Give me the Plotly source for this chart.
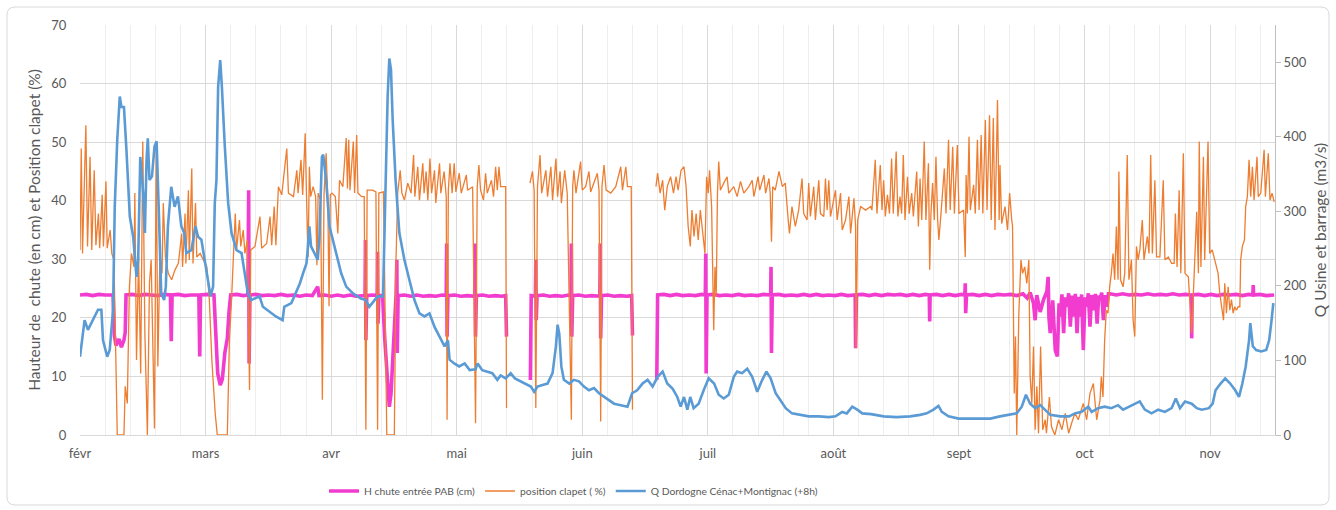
import plotly.graph_objects as go

# x position: months laid out evenly, 30 units per month (févr = 0)
MONTHS = ["févr", "mars", "avr", "mai", "juin", "juil", "août", "sept", "oct", "nov"]
MONTH_POS = [0, 30, 60, 90, 120, 150, 180, 210, 240, 270]

# Q Dordogne Cénac+Montignac (+8h), m3/s  (t, value)
BLUE = [
(0,105),(1.1,154),(1.9,141),(3.1,154),(4.3,168),(5.1,168),(5.5,127),(6.5,105),(7.1,114),(7.9,168),(8.3,306),(8.9,396),(9.5,454),(9.9,440),(10.5,440),(11.1,382),(11.9,293),(12.7,266),(13.5,212),(13.9,235),(14.4,373),(15.1,324),(15.5,271),(15.9,369),(16.2,398),(16.6,342),(17.2,347),(17.8,387),(18.3,394),(18.9,288),(19.4,190),(20.1,181),(20.5,199),(21.0,280),(21.8,333),(22.6,306),(23.4,320),(24.2,280),(24.9,271),(25.4,244),(26.6,248),(27.6,280),(28.2,266),(29.0,262),(29.8,235),(30.6,208),(31.2,186),(31.8,199),(32.2,311),(32.6,342),(33.0,467),(33.5,503),(33.9,467),(34.6,387),(35.4,311),(36.2,271),(37.4,248),(38.6,244),(39.3,217),(40.1,190),(40.9,181),(42.9,186),(43.7,172),(45.3,165),(46.8,159),(48.4,154),(48.8,172),(50.5,177),(51.5,190),(52.5,203),(53.3,217),(54.1,230),(54.4,248),(54.8,280),(55.2,253),(56.0,244),(56.8,235),(57.2,266),(57.8,373),(58.1,376),(58.8,342),(59.6,280),(60.4,262),(61.2,248),(62.4,217),(63.6,199),(65.2,190),(67.1,183),(68.3,181),(69.1,172),(70.3,181),(71.1,186),(72.4,186),(73.0,333),(73.5,454),(73.9,505),(74.3,490),(74.7,423),(75.4,342),(76.3,271),(77.5,235),(78.7,208),(79.9,181),(81.1,163),(82.3,159),(83.5,163),(84.7,145),(85.9,132),(87.1,119),(87.9,127),(88.3,101),(89.4,96),(90.6,92),(91.9,96),(93.1,87),(94.5,88),(95.0,96),(96.1,87),(97.3,85),(98.5,83),(99.7,74),(100.5,80),(101.7,76),(102.9,83),(103.9,76),(105.3,72),(106.5,69),(107.7,65),(108.5,58),(109.3,65),(110.5,67),(111.7,69),(112.9,83),(113.7,119),(114.1,148),(114.5,136),(115.0,92),(115.6,74),(116.9,69),(118.0,74),(119.2,72),(120.4,65),(121.6,60),(122.8,63),(124.0,56),(125.2,51),(126.4,47),(127.6,42),(129.2,40),(130.8,38),(131.9,56),(133.1,60),(134.4,69),(135.6,74),(136.8,65),(138.0,78),(139.2,85),(140.3,69),(141.6,62),(142.7,51),(143.5,38),(144.3,51),(145.1,34),(145.8,51),(146.6,36),(147.8,42),(149.0,60),(150.2,76),(151.5,69),(152.6,54),(153.8,49),(155.0,54),(156.2,78),(157.0,85),(158.2,83),(159.4,89),(160.6,78),(161.8,58),(163.0,74),(164.0,85),(165.0,76),(166.2,56),(167.3,47),(168.6,36),(170.1,29),(171.7,27),(174.1,25),(176.5,25),(178.9,24),(180.5,25),(182.1,31),(183.2,29),(184.5,38),(185.7,34),(186.9,29),(189.0,28),(192.0,25),(195.1,24),(198.3,25),(200.7,27),(202.3,29),(203.9,34),(205.1,39),(205.9,31),(207.5,25),(209.9,22),(212.7,22),(215.1,21),(217.5,22),(219.8,25),(222.2,27),(223.8,29),(225.0,38),(226.0,54),(227.0,42),(228.2,36),(229.4,40),(230.6,34),(231.8,27),(234.2,25),(236.3,25),(237.7,29),(239.3,31),(240.9,38),(241.7,31),(243.2,36),(244.8,38),(246.4,36),(248.0,40),(249.2,34),(250.8,38),(252.0,42),(253.2,45),(254.4,34),(256.0,29),(257.6,34),(259.2,31),(260.8,36),(261.8,49),(262.8,36),(264.0,45),(265.6,42),(266.8,36),(268.0,34),(269.7,36),(270.6,42),(271.3,60),(272.5,69),(273.6,76),(274.8,69),(276.0,60),(276.9,51),(277.7,69),(278.5,92),(279.3,127),(279.6,150),(280.2,119),(281.0,114),(282.2,112),(283.4,114),(284.1,127),(284.6,150),(285.1,177),
]

# H chute entrée PAB (cm)  (t, value); None = no data
PINK = [
(0,23.9),(1.5,24.0),(3,23.8),(4.5,24.0),(6,23.9),(7.9,23.9),(8.2,17.0),(8.6,15.3),(9.3,16.4),(9.9,15.0),(10.5,16.2),(10.8,17.5),(11.0,23.9),(12.5,24.0),(14,23.8),(15.5,24.0),(17,23.9),(18.5,23.8),(20,24.0),(21.6,23.9),(21.8,16.0),(22.0,23.9),(23.5,24.0),(25,23.8),(26.5,23.9),(28.4,23.9),(28.6,13.4),(28.8,23.9),(30.5,24.0),(32.0,23.9),(32.4,18.0),(32.9,10.5),(33.5,8.5),(34.0,9.5),(34.6,14.0),(35.2,16.5),(35.6,21.0),(36.0,23.9),(37.5,24.0),(39,23.8),(40.1,23.9),(40.3,41.8),(40.4,12.2),(40.6,23.9),(42,24.0),(43.5,23.8),(45,23.9),(46.5,23.8),(48,24.0),(49.5,23.8),(51,23.9),(52.5,23.7),(54,23.9),(55.5,23.8),(56.8,25.3),(57.1,23.8),(58.5,23.9),(60,23.7),(61.5,23.9),(63,23.7),(64.5,23.9),(66,23.7),(68.1,23.8),(68.2,33.3),(68.3,16.2),(68.5,23.8),(69.8,23.9),(71.0,23.8),(71.1,31.3),(71.2,19.0),(71.4,23.8),(72.3,23.8),(72.8,16.5),(73.4,9.0),(73.9,4.8),(74.3,7.0),(74.8,13.5),(75.2,20.0),(75.5,23.8),(75.7,29.9),(75.8,14.0),(76.0,23.8),(77.5,23.9),(79,23.7),(80.5,23.9),(82,23.7),(83.5,23.8),(85,23.7),(86.5,23.9),(87.5,23.8),(87.6,32.7),(87.7,16.8),(87.9,23.8),(89.5,23.9),(91,23.7),(92.5,23.8),(94.3,23.7),(94.4,32.7),(94.5,16.8),(94.7,23.8),(96.2,23.9),(97.7,23.7),(99.2,23.8),(100.7,23.7),(101.7,23.8),(101.9,16.8),(102.0,None),
(107.6,9.4),(107.8,23.8),(108.8,23.7),(108.9,29.9),(109.0,19.6),(109.2,23.8),(110.7,23.9),(112.2,23.7),(113.7,23.8),(115.2,23.7),(116.7,23.9),(117.3,23.7),(117.4,32.7),(117.5,16.8),(117.7,23.8),(119.2,23.9),(120.7,23.7),(122.2,23.8),(124.2,23.7),(124.3,32.7),(124.4,16.5),(124.6,23.8),(126.1,23.9),(127.6,23.7),(129.1,23.8),(130.6,23.7),(131.8,23.8),(132.0,17.0),(132.1,None),
(137.8,9.4),(138.0,23.9),(139.5,24.0),(141,23.8),(142.5,24.0),(144,23.8),(145.5,23.9),(147,23.8),(148.5,24.0),(149.4,23.9),(149.5,31.0),(149.6,10.5),(149.8,23.9),(151.3,24.0),(152.8,23.8),(154.3,23.9),(155.8,23.8),(157.3,24.0),(158.8,23.8),(160.3,23.9),(161.8,23.8),(163.3,24.0),(165.0,23.9),(165.1,28.7),(165.2,14.0),(165.4,23.9),(166.9,24.0),(168.4,23.8),(169.9,23.9),(171.4,23.8),(172.9,24.0),(174.4,23.8),(175.9,24.0),(177.4,23.8),(178.9,23.9),(180.4,23.8),(181.9,24.0),(183.4,23.8),(185.2,23.9),(185.3,14.8),(185.5,23.9),(187,24.0),(188.5,23.8),(190,24.0),(191.5,23.8),(193,24.0),(194.5,23.9),(196,24.0),(197.5,23.8),(199,24.0),(200.5,23.8),(202,24.0),(202.9,23.9),(203.0,19.4),(203.1,23.9),(204.6,24.0),(206.1,23.8),(207.6,24.0),(209.1,23.8),(210.6,24.0),(211.4,23.9),(211.5,25.9),(211.6,20.8),(211.8,23.9),(213.3,24.0),(214.8,23.8),(216.3,24.0),(217.8,23.8),(219.3,24.0),(220.8,23.9),(222.3,24.0),(223.8,23.8),(225.3,24.1),(226.3,23.4),(227.0,24.3),(227.8,22.5),(228.2,19.6),(228.6,23.9),(229.4,21.0),(230.2,23.1),(231.0,24.5),(231.3,27.0),(231.5,20.0),(231.8,17.4),(232.4,23.0),(233.0,14.5),(233.5,13.4),(233.9,22.5),(234.2,20.2),(234.6,24.0),(235.0,17.4),(235.4,23.5),(235.8,21.9),(236.2,24.2),(236.6,18.5),(237.0,23.8),(237.4,20.2),(237.8,24.1),(238.2,17.4),(238.6,23.6),(239.0,20.2),(239.3,24.0),(239.7,14.5),(240.1,23.5),(240.5,21.9),(240.9,24.2),(241.3,18.5),(241.7,23.9),(242.2,21.3),(242.6,24.1),(243.0,19.0),(243.4,23.8),(243.7,23.1),(244.1,24.3),(244.5,19.6),(244.9,23.9),(245.3,21.9),(245.7,24.1),(246.1,24.1),(247.6,23.9),(249.1,24.1),(250.6,23.9),(252.1,24.0),(253.6,23.9),(255.1,24.1),(256.6,23.9),(258.1,24.0),(259.6,23.9),(261.1,24.1),(262.6,23.9),(264.1,24.0),(265.5,23.9),(265.6,16.5),(265.7,23.9),(267.2,24.0),(268.7,23.8),(270.2,24.0),(271.7,23.8),(273.2,24.0),(274.7,23.9),(276.2,24.0),(277.7,23.8),(279.2,24.0),(280.2,23.9),(280.3,25.6),(280.4,23.9),(281.9,24.0),(283.4,23.8),(285.3,23.9),
]

# position clapet (%)  (t, value); None = no data
ORANGE = [
(0,31.6),(0.3,48.9),(0.6,31.0),(1.4,52.9),(1.8,32.2),(2.4,47.5),(2.8,31.6),(3.4,45.2),(3.8,32.4),(4.4,37.8),(4.7,31.9),(5.3,41.0),(5.6,32.2),(6.2,43.3),(6.5,31.9),(7.2,35.0),(7.6,31.0),(8.1,29.9),(8.6,11.7),(8.9,0),(10.5,0),(10.8,8.3),(11.3,5.4),(11.8,25.3),(12.3,31.0),(12.9,28.7),(13.1,41.3),(13.5,12.8),(14.0,30.4),(14.5,10.5),(15.0,50.1),(15.5,17.4),(16.1,0),(16.6,25.9),(17.0,29.9),(17.4,16.2),(17.8,1.1),(18.2,49.8),(18.6,11.7),(19.1,31.0),(19.6,27.6),(19.9,39.6),(20.4,30.4),(21.1,27.6),(21.9,26.5),(22.7,28.2),(23.5,29.3),(24.3,34.4),(24.5,28.7),(25.1,37.8),(25.3,29.3),(25.9,41.8),(26.1,29.9),(26.7,45.5),(27.0,29.3),(27.6,39.6),(27.9,30.4),(28.7,31.0),(29.5,29.9),(30.3,28.7),(30.9,23.1),(31.5,12.8),(32.3,3.7),(32.8,0),(35.2,0),(35.7,16.2),(36.2,23.1),(36.6,31.0),(37.1,37.8),(37.4,31.6),(38.1,36.7),(38.4,32.2),(39.0,35.0),(39.4,31.0),(40.0,33.3),(40.5,7.7),(40.8,31.6),(41.8,32.2),(43.0,37.3),(43.4,31.9),(44.6,32.7),(45.4,37.3),(45.8,32.4),(46.4,39.0),(46.8,32.4),(47.4,42.4),(48.2,41.0),(49.4,48.9),(49.8,41.3),(51.0,40.7),(51.8,45.2),(52.1,41.3),(52.8,47.0),(53.2,41.0),(53.8,51.5),(54.1,41.3),(54.5,30.4),(54.8,45.8),(55.1,40.7),(55.7,42.4),(56.3,40.7),(56.6,29.0),(56.9,41.3),(57.5,40.1),(57.9,6.0),(58.3,41.0),(58.8,48.1),(59.2,40.7),(59.5,22.0),(59.8,41.0),(60.2,41.3),(61.0,40.7),(61.6,34.4),(62.0,43.5),(62.8,42.4),(63.6,50.7),(63.9,42.1),(64.2,50.4),(64.5,41.8),(65.3,50.1),(65.6,41.3),(66.1,51.2),(66.4,41.3),(67.3,40.7),(67.9,40.7),(68.3,0.9),(68.6,41.8),(69.9,41.8),(70.7,41.5),(71.1,0.9),(71.4,41.3),(72.5,41.5),(73.0,19.6),(73.3,0),(75.1,0),(75.5,29.9),(75.9,41.3),(76.5,45.2),(76.9,41.3),(77.5,40.1),(78.3,43.0),(79.1,41.3),(79.7,47.8),(80.0,40.7),(80.7,45.8),(81.1,40.1),(81.9,46.4),(82.2,41.3),(82.7,45.0),(83.1,40.1),(83.6,47.2),(84.0,41.3),(84.7,45.2),(85.0,39.6),(85.9,46.4),(86.2,41.3),(87.0,45.0),(87.5,40.7),(87.7,2.6),(88.0,41.8),(88.4,46.4),(88.9,41.3),(89.4,46.4),(89.8,41.5),(90.6,44.7),(91.1,41.3),(92.3,44.4),(92.6,41.8),(93.8,42.4),(94.5,2.0),(94.9,42.4),(95.3,46.1),(95.7,41.8),(96.4,40.1),(96.9,44.7),(97.3,41.3),(98.3,43.5),(98.8,40.7),(99.3,45.8),(99.7,41.8),(100.1,45.8),(100.5,42.4),(101.7,42.4),(101.9,4.6),(102.0,None),
(107.5,43.0),(108.1,45.0),(108.5,41.8),(108.9,4.6),(109.3,42.4),(109.9,47.8),(110.3,41.3),(111.3,45.2),(111.7,40.7),(112.5,45.8),(112.9,40.1),(113.7,47.2),(114.1,40.7),(114.7,45.0),(115.0,39.6),(115.8,45.2),(116.4,41.3),(117.4,2.6),(117.7,42.4),(118.0,45.2),(118.5,41.3),(119.6,46.7),(120.0,41.8),(120.8,42.4),(121.6,45.0),(122.0,41.5),(123.6,44.7),(124.0,41.8),(124.4,2.3),(124.7,42.4),(125.2,46.1),(125.7,41.8),(126.8,41.3),(128.0,42.4),(129.2,45.8),(129.6,41.8),(130.4,45.8),(130.8,42.4),(131.7,42.4),(132.0,4.3),(132.1,None),
(137.6,42.4),(138.0,44.7),(138.6,41.3),(139.2,43.5),(139.7,38.4),(140.3,42.4),(141.1,44.1),(141.8,41.3),(142.4,44.1),(142.9,41.8),(143.6,45.2),(144.3,45.8),(144.8,42.4),(145.3,35.6),(145.8,32.2),(146.2,38.4),(146.7,33.9),(147.2,37.8),(147.7,33.3),(148.2,38.4),(148.8,34.4),(149.3,31.0),(149.7,44.1),(150.1,41.3),(150.4,45.2),(150.9,39.0),(151.4,17.9),(151.7,28.7),(152.0,23.6),(152.3,41.3),(152.6,46.7),(153.0,41.8),(153.8,43.0),(154.6,44.1),(155.0,41.3),(156.2,42.4),(157.0,40.7),(157.8,43.3),(158.6,41.3),(159.8,42.4),(160.6,43.5),(161.0,40.7),(162.0,44.1),(162.4,41.8),(163.4,44.4),(163.8,41.3),(164.6,43.8),(164.9,41.3),(165.2,33.0),(165.5,42.4),(166.1,41.8),(167.0,45.0),(167.8,42.4),(168.5,43.0),(169.2,36.7),(169.5,34.4),(170.1,39.0),(170.9,35.6),(171.7,38.4),(172.5,43.8),(172.9,37.8),(173.7,36.7),(174.1,43.0),(174.5,37.3),(175.3,42.4),(175.7,36.7),(176.5,43.5),(176.9,37.8),(177.7,37.3),(178.1,43.8),(178.5,38.4),(178.9,43.5),(179.3,37.3),(180.5,41.8),(180.9,36.7),(181.7,41.3),(182.1,35.0),(182.9,36.7),(183.7,40.7),(184.1,34.4),(184.9,40.4),(185.3,35.6),(185.4,14.8),(185.8,36.7),(186.5,39.0),(187.7,38.4),(188.9,39.0),
(189.2,38.4),(190.0,47.0),(190.4,37.8),(191.2,46.1),(191.6,38.4),(192.0,43.5),(192.4,37.3),(192.9,41.0),(193.4,37.8),(193.9,47.2),(194.3,37.8),(195.0,48.4),(195.4,37.3),(195.9,40.7),(196.3,37.8),(196.7,47.8),(197.1,36.7),(197.7,44.1),(198.1,37.8),(198.7,41.3),(199.1,37.3),(199.9,45.0),(200.3,35.6),(200.7,43.8),(201.1,36.7),(201.7,50.1),(202.1,36.7),(202.7,46.4),(203.0,28.2),(203.3,37.8),(203.7,43.0),(204.1,36.7),(204.5,47.5),(204.9,36.7),(205.2,33.3),(205.7,37.8),(206.5,45.5),(206.9,37.8),(207.5,50.4),(207.9,38.4),(208.5,49.2),(208.9,37.8),(209.6,49.5),(210.0,37.8),(211.1,38.4),(211.5,30.4),(211.7,44.4),(212.0,37.8),(212.4,50.9),(212.7,38.4),(213.5,42.7),(213.9,37.8),(214.4,50.4),(214.8,38.4),(215.3,51.2),(215.7,37.8),(216.3,53.8),(216.7,38.4),(217.3,54.6),(217.7,36.7),(218.2,54.1),(218.6,35.0),(219.2,57.2),(219.6,36.7),(219.8,46.1),(220.2,36.1),(221.0,39.0),(221.6,35.0),(222.1,41.3),(222.6,36.7),(222.8,35.6),(223.2,7.1),(223.5,16.8),(223.8,0),(224.3,20.8),(224.8,29.9),(225.2,27.6),(225.7,28.7),(226.2,25.9),(226.7,29.9),(227.0,10.0),(227.4,5.4),(227.8,15.1),(228.2,0.9),(228.6,8.3),(229.0,0.3),(229.5,15.1),(230.0,0.9),(230.6,2.6),(230.9,0.3),(231.6,6.5),(232.1,1.4),(232.9,0),(233.8,2.6),(234.6,0.9),(235.4,3.7),(236.2,0.3),
(236.9,2.0),(237.7,3.7),(238.5,2.6),(239.7,5.4),(240.5,2.6),(241.3,7.1),(242.1,8.8),(242.9,2.6),(243.7,6.0),(244.0,10.0),(244.4,6.5),(244.8,16.2),(245.2,21.3),(245.6,20.8),(246.0,25.3),(246.4,27.6),(246.8,31.0),(247.2,26.5),(247.6,35.6),(248.0,26.5),(248.2,45.0),(248.6,26.5),(249.2,25.3),(249.6,27.6),(250.2,47.8),(250.6,26.5),(251.2,29.9),(251.6,19.6),(252.0,16.8),(252.4,32.2),(252.8,29.9),(253.2,31.6),(253.8,36.7),(254.2,29.9),(255.0,33.9),(255.4,31.0),(255.8,47.8),(256.2,31.0),(256.8,43.5),(257.2,30.4),(258.0,30.4),(258.8,43.5),(259.2,29.9),(260.0,30.4),(260.8,29.3),(261.4,29.3),(261.7,37.8),(262.1,28.7),(262.6,41.8),(263.0,27.6),(263.6,48.1),(264.0,27.6),(264.8,27.0),(265.6,17.4),(266.2,27.6),(266.8,38.1),(267.2,27.6),(267.4,50.1),(267.8,28.7),(268.4,47.5),(268.7,29.9),(269.5,50.1),(269.9,31.0),(270.5,31.6),(271.1,29.9),(271.9,27.6),(272.3,24.2),(272.7,22.5),(273.2,19.6),(273.5,25.9),(273.9,20.8),(274.3,25.3),(274.7,21.3),(275.1,23.1),(275.5,20.8),(275.9,21.9),(276.3,21.3),(276.7,21.9),(277.1,21.9),(277.3,29.9),(277.7,32.2),(278.2,33.3),(278.5,39.0),(278.9,40.7),(279.3,47.0),(279.7,40.7),(280.1,45.8),(280.5,40.1),(281.2,47.5),(281.5,40.7),(282.1,41.3),(282.9,48.7),(283.2,40.7),(283.9,48.1),(284.3,40.1),(284.8,41.3),(285.3,39.8),
]

LEFT_TICKS = [0, 10, 20, 30, 40, 50, 60, 70]
RIGHT_TICKS = [0, 100, 200, 300, 400, 500]

FONT = "Lato"
GREY = "#595959"


def split(points):
    return [p[0] for p in points], [p[1] for p in points]


fig = go.Figure()
px_, py_ = split(PINK)
ox, oy = split(ORANGE)
bx, by = split(BLUE)

fig.add_trace(go.Scatter(x=px_, y=py_, mode="lines", name="H chute entrée PAB (cm)",
                         line=dict(color="#F23CCF", width=3.6), connectgaps=False))
fig.add_trace(go.Scatter(x=ox, y=oy, mode="lines", name="position clapet ( %)",
                         line=dict(color="#ED7D31", width=1.3), connectgaps=False))
fig.add_trace(go.Scatter(x=bx, y=by, mode="lines", name="Q Dordogne Cénac+Montignac (+8h)",
                         line=dict(color="#5B9BD5", width=2.6), yaxis="y2"))

# outer rounded frame of the chart area
x0, x1 = (7 - 80) / 1195, (1329 - 80) / 1195
y0, y1 = (435 - 505) / 410, (435 - 7) / 410
rx, ry = 8 / 1195, 8 / 410
path = (f"M {x0+rx},{y1} L {x1-rx},{y1} Q {x1},{y1} {x1},{y1-ry} L {x1},{y0+ry} "
        f"Q {x1},{y0} {x1-rx},{y0} L {x0+rx},{y0} Q {x0},{y0} {x0},{y0+ry} "
        f"L {x0},{y1-ry} Q {x0},{y1} {x0+rx},{y1} Z")

fig.update_layout(
    width=1336, height=510,
    margin=dict(l=80, r=61, t=25, b=75),
    paper_bgcolor="white", plot_bgcolor="white",
    font=dict(family=FONT, size=13, color=GREY),
    shapes=[dict(type="path", path=path, xref="paper", yref="paper",
                 line=dict(color="#d9d9d9", width=1), layer="below")],
    xaxis=dict(range=[0, 285.5], tickmode="array", tickvals=MONTH_POS, ticktext=MONTHS,
               showgrid=True, gridcolor="#d9d9d9", gridwidth=1,
               minor=dict(tickmode="linear", tick0=0, dtick=6, showgrid=True,
                          gridcolor="#eeeeee", gridwidth=1),
               showline=True, linecolor="#d9d9d9", ticks="outside", ticklen=6,
               tickcolor="rgba(0,0,0,0)", zeroline=False, automargin=False,
               tickfont=dict(size=13, color=GREY)),
    yaxis=dict(range=[0, 70], tickmode="array", tickvals=LEFT_TICKS,
               showgrid=True, gridcolor="#d9d9d9", zeroline=False, showline=False,
               ticks="outside", ticklen=10, tickcolor="rgba(0,0,0,0)", automargin=False,
               tickfont=dict(size=13, color=GREY),
               title=dict(text="Hauteur de  chute (en cm) et Position clapet (%)",
                          font=dict(size=15.5, color=GREY), standoff=6)),
    yaxis2=dict(range=[0, 550], tickmode="array", tickvals=RIGHT_TICKS, overlaying="y",
                side="right", showgrid=False, zeroline=False, showline=True,
                linecolor="#bfbfbf", ticks="outside", ticklen=5, tickcolor="#bfbfbf",
                automargin=False, tickfont=dict(size=13, color=GREY),
                title=dict(text="Q Usine et barrage (m3/s)",
                           font=dict(size=15.5, color=GREY), standoff=9)),
    legend=dict(orientation="h", xref="container", yref="container",
                x=(324) / 1336, xanchor="left", y=(510 - 491) / 510, yanchor="middle",
                font=dict(size=10.3, color=GREY), bgcolor="rgba(0,0,0,0)",
                itemwidth=30, traceorder="normal"),
    showlegend=True,
)

fig.write_html("out.html", config={"displayModeBar": False},
               post_script="document.body.style.margin='0';document.body.style.overflow='hidden';")
